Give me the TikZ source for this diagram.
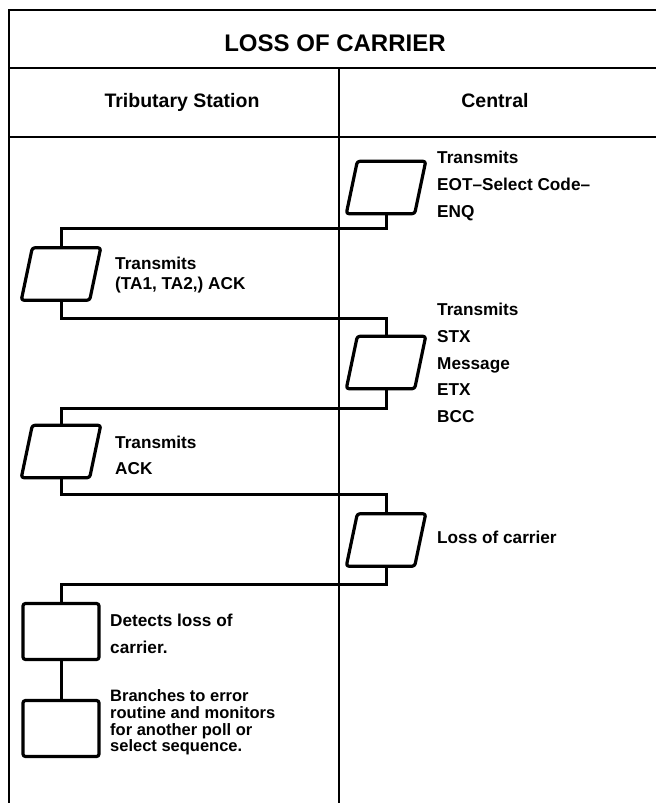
\documentclass[tikz,border=0pt]{standalone}
\usepackage{fontspec}
\setmainfont{Liberation Sans}
\newcommand\drawpara[1]{%
  \draw[boxline] ([xshift=-5.5pt]#1.south west) -- ([xshift=-5.5pt]#1.south east)
    -- ([xshift=5.5pt]#1.north east) -- ([xshift=5.5pt]#1.north west) -- cycle;}
\begin{document}
\begin{tikzpicture}[x=1pt,y=-1pt,
  frame/.style={line width=2.8pt},
  boxline/.style={line width=3.2pt, rounded corners=2.5pt, line join=round},
  para/.style={rectangle, minimum width=68pt, minimum height=52pt, inner sep=0pt},
  rbox/.style={draw, line width=3.2pt, rectangle, minimum width=76pt,
    minimum height=56pt, inner sep=0pt, rounded corners=2.5pt},
  link/.style={line width=3pt},
  lbl/.style={anchor=west, inner sep=0pt, align=left,
    font=\bfseries\fontsize{17.2}{26.7}\selectfont},
  head/.style={inner sep=0pt, font=\bfseries\fontsize{19.5}{22}\selectfont},
  ttl/.style={inner sep=0pt, font=\bfseries\fontsize{24}{28}\selectfont}
]
\useasboundingbox (0,0) rectangle (656,803);
% table frame
\draw[frame] (656,10) -- (9,10) -- (9,803);
\draw[frame] (9,68) -- (656,68);
\draw[frame] (9,137) -- (656,137);
\draw[frame] (339,68) -- (339,803);
% headings
\node[ttl] (title) at (335,43) {LOSS OF CARRIER};
\node[head] (trib) at (182,102) {Tributary Station};
\node[head] (cent) at (495,101) {Central};
% boxes
\node[para] (b1) at (386,187.5) {};
\node[para] (b2) at (61,274) {};
\node[para] (b3) at (386,362.5) {};
\node[para] (b4) at (61,451.5) {};
\node[para] (b5) at (386,540) {};
\drawpara{b1}\drawpara{b2}\drawpara{b3}\drawpara{b4}\drawpara{b5}
\node[rbox] (b6) at (61,631.5) {};
\node[rbox] (b7) at (61,728.5) {};
% connectors
\draw[link] (b1.south) -- ++(0,14.5) -| (b2.north);
\draw[link] (b2.south) -- ++(0,18) -| (b3.north);
\draw[link] (b3.south) -- ++(0,19.5) -| (b4.north);
\draw[link] (b4.south) -- ++(0,16.5) -| (b5.north);
\draw[link] (b5.south) -- ++(0,18) -| (b6.north);
\draw[link] (b6.south) -- (b7.north);
% labels
\node[lbl] (t1) at (437,186) {Transmits\\EOT--Select Code--\\ENQ};
\node[lbl, font=\bfseries\fontsize{17.2}{20}\selectfont] (t2) at (115,275) {Transmits\\(TA1, TA2,) ACK};
\node[lbl] (t3) at (437,363) {Transmits\\STX\\Message\\ETX\\BCC};
\node[lbl, font=\bfseries\fontsize{17.2}{26}\selectfont] (t4) at (115,455) {Transmits\\ACK};
\node[lbl] (t5) at (437,537) {Loss of carrier};
\node[lbl, font=\bfseries\fontsize{17.2}{27}\selectfont] (t6) at (110,633.5) {Detects loss of\\carrier.};
\node[lbl, font=\bfseries\fontsize{16.5}{16.8}\selectfont] (t7) at (110,722.5) {Branches to error\\routine and monitors\\for another poll or\\select sequence.};
\end{tikzpicture}
\end{document}
